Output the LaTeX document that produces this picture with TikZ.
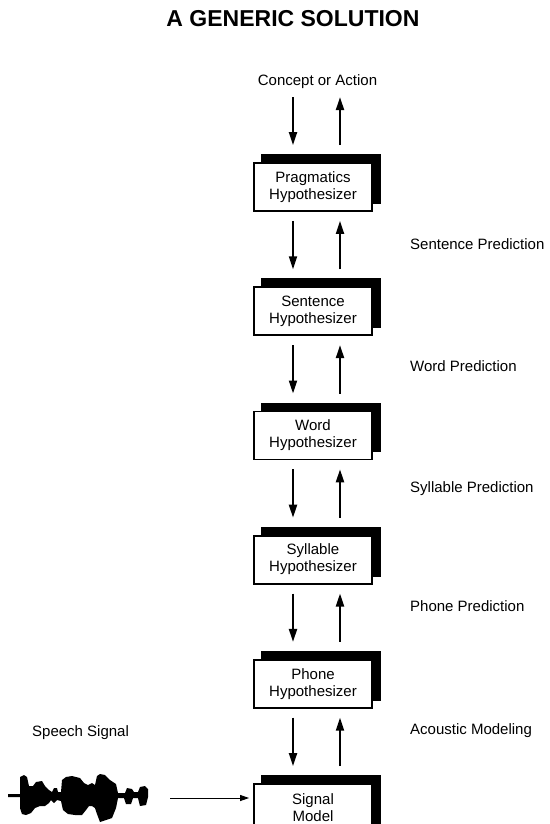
\documentclass[tikz,border=0pt]{standalone}
\usepackage{fontspec}
\setmainfont{Liberation Sans}
\usepackage{tikz}
\usetikzlibrary{arrows.meta,positioning,shadows}

\begin{document}
\begin{tikzpicture}[x=1pt,y=-1pt,node distance=74.4pt,
  font=\fontsize{15}{17}\selectfont,
  hyp/.style={draw,fill=white,line width=1.8pt,minimum width=118pt,minimum height=48pt,
    inner sep=0pt,align=center,
    copy shadow={shadow xshift=8pt,shadow yshift=8pt,fill=black,draw=black}},
  flow/.style={line width=2pt,-{Triangle[length=13pt,width=8pt]},shorten <=9pt,shorten >=17pt},
  lab/.style={anchor=west,inner sep=0pt}]
\useasboundingbox (0,0) rectangle (549,824);
%%First place the nodes
\node[font=\fontsize{23}{26}\selectfont\bfseries] (title) at (293,19) {A GENERIC SOLUTION};
\node (goal) at (317.5,82) {Concept or Action};
\node[hyp] (prag) at (313,187) {Pragmatics\\Hypothesizer};
\node[hyp] (sent) [below=of prag] {Sentence\\Hypothesizer};
\node[hyp] (word) [below=of sent] {Word\\Hypothesizer};
\node[hyp] (syll) [below=of word] {Syllable\\Hypothesizer};
\node[hyp] (phone) [below=of syll] {Phone\\Hypothesizer};
\node[hyp] (sig) [below=of phone] {Signal\\Model};
\coordinate (down0) at ([xshift=-20pt,yshift=65pt]prag.north);
\coordinate (up0) at ([xshift=27pt,yshift=65pt]prag.north);
%%The labels on the right
\node[lab] (sp) at (410,244) {Sentence Prediction};
\node[lab] (wp) at (410,366) {Word Prediction};
\node[lab] (yp) at (410,489) {Syllable Prediction};
\node[lab] (pp) at (410,606) {Phone Prediction};
\node[lab] (am) at (410,731) {Acoustic Modeling};
\node[lab] (speech) at (32,733) {Speech Signal};
%%Draw the down and up arrows
\draw[flow,shorten <=0pt] (down0) -- ([xshift=-20pt]prag.north);
\draw[flow,shorten <=17pt,shorten >=0pt] ([xshift=27pt]prag.north) -- (up0);
\foreach \a/\b in {prag/sent,sent/word,word/syll,syll/phone,phone/sig}{
  \draw[flow] ([xshift=-20pt]\a.south) -- ([xshift=-20pt]\b.north);
  \draw[flow,shorten <=17pt,shorten >=9pt] ([xshift=27pt]\b.north) -- ([xshift=27pt]\a.south);
}
%%Draw the speech wave
\fill (8,794) -- (20,794) -- (20,777) -- (24,775) -- (27,777) -- (29,786) -- (33,786) -- (36,782)
  -- (42,781) -- (45,786) -- (49,790) -- (52,792) -- (54,788) -- (57,788) -- (58,792) -- (61,792)
  -- (62,780) -- (66,777) -- (72,776) -- (80,778) -- (84,783) -- (88,785) -- (92,783) -- (95,785)
  -- (97,776) -- (100,774) -- (105,775) -- (110,780) -- (116,784) -- (118,793) -- (125,793)
  -- (127,788) -- (132,789) -- (134,792) -- (138,792) -- (140,787) -- (145,786) -- (148,789)
  -- (148,794) -- (148,797) -- (146,805) -- (140,806) -- (138,798) -- (133,798) -- (131,804)
  -- (126,804) -- (124,798) -- (118,798) -- (116,808) -- (112,818) -- (106,820) -- (100,822)
  -- (97,814) -- (95,808) -- (92,806) -- (89,806) -- (86,810) -- (82,815) -- (75,815) -- (68,814)
  -- (63,810) -- (61,801) -- (57,800) -- (54,803) -- (51,800) -- (49,803) -- (45,806) -- (40,806)
  -- (35,808) -- (31,813) -- (26,815) -- (22,814) -- (20,808) -- (20,797) -- (8,797) -- cycle;
\coordinate (wave) at (170,798);
\draw[line width=1pt,-{Triangle[length=9pt,width=6pt]},shorten >=4pt] (wave) -- (sig.west|-wave);
\end{tikzpicture}
\end{document}
